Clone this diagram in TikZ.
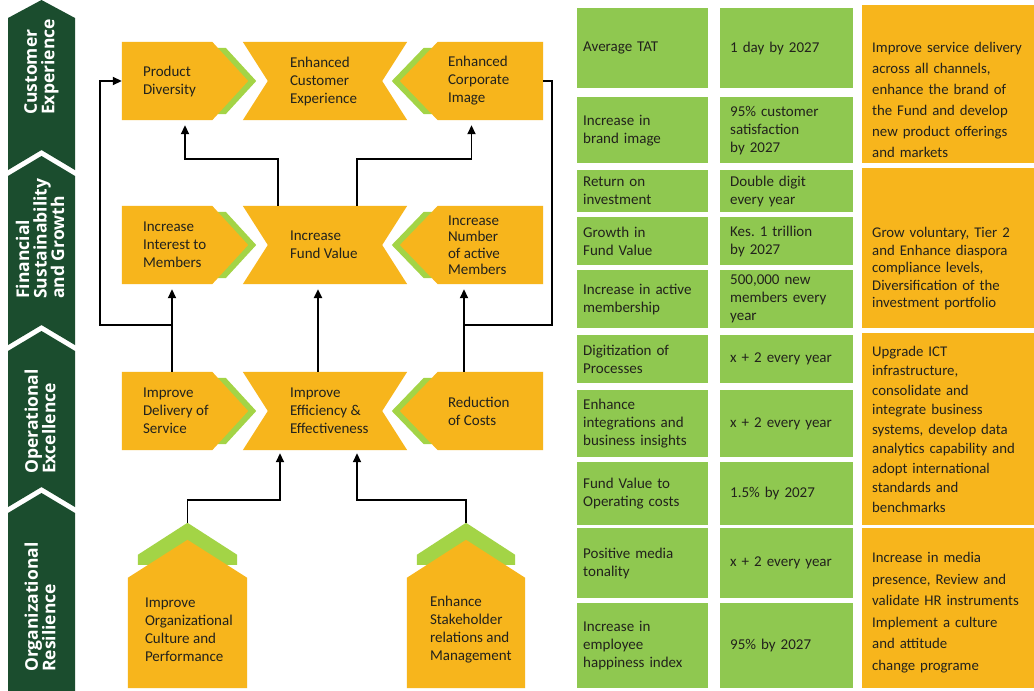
\documentclass[tikz,border=0pt]{standalone}
\usepackage{fontspec}
\setmainfont{Carlito}
\newfontfamily\bannerfont{Open Sans}
\usetikzlibrary{arrows.meta,calc,positioning}
\frenchspacing

\definecolor{bandgreen}{RGB}{27,77,46}
\definecolor{goalyellow}{RGB}{247,181,28}
\definecolor{edgegreen}{RGB}{163,212,70}
\definecolor{cellgreen}{RGB}{143,200,80}
\definecolor{inkgrey}{RGB}{34,34,28}

\tikzset{
  body/.style={minimum height=78pt, inner sep=0pt},
  lbl/.style={align=left, inner sep=0pt, text=inkgrey, font=\fontsize{15}{18}\selectfont},
  bandtext/.style={rotate=90, anchor=west, align=left, inner sep=0pt, text=white, font=\bannerfont\bfseries\fontsize{17.5}{17.5}\selectfont},
  link/.style={line width=1.8pt, draw=black},
  arr/.style={link, -{Triangle[length=9pt,width=8pt]}},
  kpi/.style={fill=cellgreen, anchor=north west, align=left, inner xsep=6pt, inner ysep=0pt, text width=119pt, text=inkgrey, font=\fontsize{15}{18}\selectfont},
  target/.style={kpi, inner xsep=10pt, text width=113pt},
  plan/.style={fill=goalyellow, anchor=north west, align=left, inner xsep=10pt, inner ysep=0pt, text width=160pt, text=inkgrey, font=\fontsize{14.8}{20}\selectfont},
}

% arrow pointing right, green edge behind its tip
\newcommand{\goalright}[1]{%
  \fill[edgegreen] ($(#1.north east)+(-60,6)$) -- ($(#1.north east)+(-22.5,6)$) -- ($(#1.east)+(8,0)$) -- ($(#1.south east)+(-22.5,-6)$) -- ($(#1.south east)+(-60,-6)$) -- cycle;
  \fill[goalyellow] (#1.north west) -- ($(#1.north east)+(-36,0)$) -- (#1.east) -- ($(#1.south east)+(-36,0)$) -- (#1.south west) -- cycle;
}
% arrow pointing left, green edge behind its tip
\newcommand{\goalleft}[1]{%
  \fill[edgegreen] ($(#1.north west)+(60,6)$) -- ($(#1.north west)+(24,6)$) -- ($(#1.west)+(-8,0)$) -- ($(#1.south west)+(24,-6)$) -- ($(#1.south west)+(60,-6)$) -- cycle;
  \fill[goalyellow] (#1.north east) -- ($(#1.north west)+(38,0)$) -- (#1.west) -- ($(#1.south west)+(38,0)$) -- (#1.south east) -- cycle;
}
% notched on both sides
\newcommand{\goalmid}[1]{%
  \fill[goalyellow] (#1.north west) -- (#1.north east) -- ($(#1.east)+(-25,0)$) -- (#1.south east) -- (#1.south west) -- ($(#1.west)+(25,0)$) -- cycle;
}
% house with green roof
\newcommand{\goalhouse}[1]{%
  \fill[edgegreen] ($(#1.north west)+(10,42)$) -- ($(#1.north west)+(10,32)$) -- (#1.north) -- ($(#1.north east)+(-10,32)$) -- ($(#1.north east)+(-10,42)$) -- cycle;
  \fill[goalyellow] (#1.south west) -- ($(#1.north west)+(0,55)$) -- ($(#1.north)+(0,17)$) -- ($(#1.north east)+(0,55)$) -- (#1.south east) -- cycle;
}

\begin{document}
\begin{tikzpicture}[x=1pt,y=1pt,yscale=-1,xscale=1]
        \useasboundingbox (0,0) rectangle (1034,691);
        \fill[white] (0,0) rectangle (1034,691);

        %Shape: Banner Customer
        \fill[bandgreen] (8,18) -- (41.5,0) -- (75,18) -- (75,170) -- (41.5,150) -- (8,170) -- cycle;
        %Shape: Banner Financial
        \fill[bandgreen] (8,176) -- (41.5,156) -- (75,176) -- (75,345) -- (41.5,325) -- (8,345) -- cycle;
        %Shape: Banner Operational
        \fill[bandgreen] (8,351) -- (41.5,331) -- (75,351) -- (75,507) -- (41.5,487) -- (8,507) -- cycle;
        %Shape: Banner Organizational
        \fill[bandgreen] (8,513) -- (41.5,493) -- (75,513) -- (75,691) -- (8,691) -- cycle;

        % Banner Text
        \node[bandtext] (ce) at (41.5,115) {Customer\\Experience};
        \node[bandtext] (fsg) at (40,299) {Financial\\Sustainability\\and Growth};
        \node[bandtext] (oe) at (40,474) {Operational\\Excellence};
        \node[bandtext] (ore) at (40,672) {Organizational\\Resilience};

        % goal bodies
        \node[body, minimum width=126pt] (pd) at (185,81) {};
        \node[body, minimum width=164pt] (ecx) at (325,81) {};
        \node[body, minimum width=143pt] (eci) at (471.5,81) {};
        \node[body, minimum width=126pt] (iim) at (185,245) {};
        \node[body, minimum width=164pt] (ifv) at (325,245) {};
        \node[body, minimum width=143pt] (ina) at (471.5,245) {};
        \node[body, minimum width=126pt] (ids) at (185,411) {};
        \node[body, minimum width=164pt] (iee) at (325,411) {};
        \node[body, minimum width=143pt] (roc) at (471.5,411) {};
        \node[inner sep=0pt, minimum width=119pt, minimum height=165pt] (ioc) at (187.5,605.5) {};
        \node[inner sep=0pt, minimum width=118pt, minimum height=165pt] (esr) at (466,605.5) {};

        %Shape: goals
        \goalright{pd} \goalmid{ecx} \goalleft{eci}
        \goalright{iim} \goalmid{ifv} \goalleft{ina}
        \goalright{ids} \goalmid{iee} \goalleft{roc}
        \goalhouse{ioc} \goalhouse{esr}

        % Text Node
        \node[lbl, right=21pt of pd.west] (pd-t) {Product\\Diversity};
        \node[lbl, right=47pt of ecx.west] (ecx-t) {Enhanced\\Customer\\Experience};
        \node[lbl, right=48pt of eci.west] (eci-t) {Enhanced\\Corporate\\Image};
        \node[lbl, right=21pt of iim.west] (iim-t) {Increase\\Interest to\\Members};
        \node[lbl, right=47pt of ifv.west] (ifv-t) {Increase\\Fund Value};
        \node[lbl, right=48pt of ina.west, font=\fontsize{15}{16.5}\selectfont] (ina-t) {Increase\\Number\\of active\\Members};
        \node[lbl, right=21pt of ids.west] (ids-t) {Improve\\Delivery of\\Service};
        \node[lbl, right=47pt of iee.west] (iee-t) {Improve\\Efficiency \&\\Effectiveness};
        \node[lbl, right=48pt of roc.west] (roc-t) {Reduction\\of Costs};
        \node[lbl, anchor=west] (ioc-t) at ($(ioc.west)+(17,24.5)$) {Improve\\Organizational\\Culture and\\Performance};
        \node[lbl, anchor=west] (esr-t) at ($(esr.west)+(23,24.5)$) {Enhance\\Stakeholder\\relations and\\Management};

        %Straight Lines
        \draw[arr, shorten >=5pt] ([xshift=-47pt]ifv.north) -- ++(0,-47) -| (pd.south);
        \draw[arr, shorten >=5pt] ([xshift=32pt]ifv.north) -- ++(0,-47) -| (eci.south);
        \draw[arr, shorten >=5pt] ([xshift=-13pt]ids.north) -- ([xshift=-13pt]iim.south);
        \draw[arr, shorten >=5pt, line width=2.4pt] ([xshift=-7pt]iee.north) -- ([xshift=-7pt]ifv.south);
        \draw[arr, shorten >=5pt] ([xshift=-7.5pt]roc.north) -- ([xshift=-7.5pt]ina.south);
        \draw[arr] ([xshift=-13pt]ids.north) ++(0,-47) -- ++(-72,0) |- (pd.west);
        \draw[link] ([xshift=-7.5pt]roc.north) ++(0,-47) -- ++(88,0) |- (eci.east);
        \draw[arr, shorten >=3pt] (ioc.north) -- ++(0,-23) -| ([xshift=-45pt]iee.south);
        \draw[arr, shorten >=3pt] (esr.north) -- ++(0,-23) -| ([xshift=32pt]iee.south);

        % Table: customer experience
        \node[kpi, minimum height=80pt] (k1) at (577,8) {Average TAT};
        \node[target, minimum height=80pt] (t1) at (720,8) {1 day by 2027};
        \node[kpi, minimum height=66pt] (k2) at (577,97) {Increase in\\brand image};
        \node[target, minimum height=66pt] (t2) at (720,97) {95\% customer\\satisfaction\\by 2027};
        \node[plan, minimum height=158pt, font=\fontsize{14.8}{21}\selectfont] (p1) at (862,5) {\rule{0pt}{41pt}Improve service delivery\\across all channels,\\enhance the brand of\\the Fund and develop\\new product offerings\\and markets};
        % Table: financial
        \node[kpi, minimum height=42pt] (k3) at (577,170) {Return on\\investment};
        \node[target, minimum height=42pt] (t3) at (720,170) {Double digit\\every year};
        \node[kpi, minimum height=48pt] (k4) at (577,217) {Growth in\\Fund Value};
        \node[target, minimum height=48pt] (t4) at (720,217) {Kes. 1 trillion\\by 2027};
        \node[kpi, minimum height=58pt] (k5) at (577,270) {Increase in active\\membership};
        \node[target, minimum height=58pt] (t5) at (720,270) {500,000 new\\members every\\year};
        \node[plan, minimum height=160pt, font=\fontsize{14.8}{17.5}\selectfont] (p2) at (862,168) {\rule{0pt}{51pt}Grow voluntary, Tier 2\\and Enhance diaspora\\compliance levels,\\Diversification of the\\investment portfolio};
        % Table: operational
        \node[kpi, minimum height=48pt] (k6) at (577,335) {Digitization of\\Processes};
        \node[target, minimum height=48pt] (t6) at (720,335) {x + 2 every year};
        \node[kpi, minimum height=67pt] (k7) at (577,390) {Enhance\\integrations and\\business insights};
        \node[target, minimum height=67pt] (t7) at (720,390) {x + 2 every year};
        \node[kpi, minimum height=63pt] (k8) at (577,462) {Fund Value to\\Operating costs};
        \node[target, minimum height=63pt] (t8) at (720,462) {1.5\% by 2027};
        \node[plan, minimum height=192pt, font=\fontsize{14.8}{19.5}\selectfont] (p3) at (862,333) {Upgrade ICT\\infrastructure,\\consolidate and\\integrate business\\systems, develop data\\analytics capability and\\adopt international\\standards and\\benchmarks};
        % Table: organizational
        \node[kpi, minimum height=70pt] (k9) at (577,528) {Positive media\\tonality};
        \node[target, minimum height=70pt] (t9) at (720,528) {x + 2 every year};
        \node[kpi, minimum height=85pt] (k10) at (577,603) {Increase in\\employee\\happiness index};
        \node[target, minimum height=85pt] (t10) at (720,603) {95\% by 2027};
        \node[plan, minimum height=160pt, font=\fontsize{14.8}{21.5}\selectfont] (p4) at (862,528) {\rule{0pt}{19pt}Increase in media\\presence, Review and\\validate HR instruments\\Implement a culture\\and attitude\\change programe};
\end{tikzpicture}
\end{document}
